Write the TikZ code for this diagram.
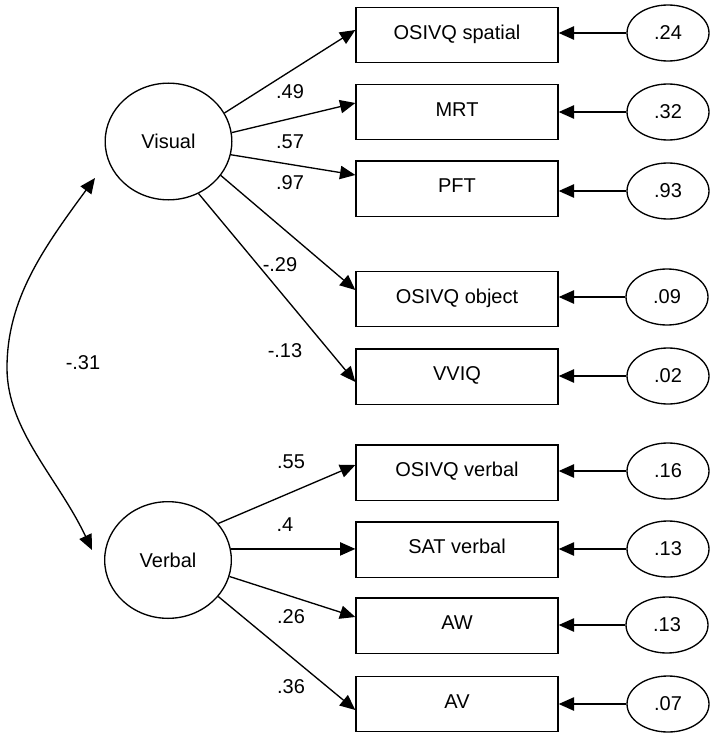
\documentclass[tikz,border=0pt]{standalone}
\usepackage{fontspec}
\setmainfont{Liberation Sans}
\usetikzlibrary{arrows.meta,shapes.geometric}
\begin{document}
\begin{tikzpicture}[x=0.75pt,y=-0.75pt,
  every node/.style={font=\fontsize{15pt}{18pt}\selectfont, text=black},
  obs/.style={draw, line width=1pt, minimum width=151.5pt, minimum height=41.5pt, inner sep=0pt, text height=11pt, text depth=4.8pt},
  err/.style={draw, ellipse, line width=1pt, minimum width=61.5pt, minimum height=42pt, inner sep=0pt},
  lat/.style={draw, ellipse, line width=1pt, minimum width=95pt, minimum height=87.5pt, inner sep=0pt},
  lbl/.style={inner sep=0pt},
  arr/.style={line width=1pt, -{Triangle[length=11.5pt,width=10pt]}},
  darr/.style={line width=1pt, {Triangle[length=11.5pt,width=10pt]}-{Triangle[length=11.5pt,width=10pt]}}
]
\useasboundingbox (0,0) rectangle (710,735);

% latent variables
\node[lat] (vis) at (168.5,141.5) {Visual};
\node[lat] (vrb) at (168,560) {Verbal};

% observed variables
\node[obs] (b1) at (457,35) {OSIVQ spatial};
\node[obs] (b2) at (457,112) {MRT};
\node[obs] (b3) at (457,188.5) {PFT};
\node[obs] (b4) at (457,299) {OSIVQ object};
\node[obs] (b5) at (457,376.5) {VVIQ};
\node[obs] (b6) at (457,472.5) {OSIVQ verbal};
\node[obs] (b7) at (457,549.5) {SAT verbal};
\node[obs] (b8) at (457,625.5) {AW};
\node[obs] (b9) at (457,704) {AV};

% error terms
\node[err] (e1) at (668,33) {.24};
\node[err] (e2) at (668,112) {.32};
\node[err] (e3) at (668,191) {.93};
\node[err] (e4) at (667,297) {.09};
\node[err] (e5) at (668,376) {.02};
\node[err] (e6) at (668,471) {.16};
\node[err] (e7) at (668,549) {.13};
\node[err] (e8) at (667,625) {.13};
\node[err] (e9) at (668,704) {.07};

\foreach \i in {1,...,9}{
  \draw[arr] (e\i.west) -- (e\i.west -| b\i.east);
}

% loadings from Visual
\draw[arr] (vis.27) -- (b1.west |- 0,30);
\draw[arr] (vis.8.5) -- (b2.west |- 0,103);
\draw[arr] (vis.-12) -- (b3.west |- 0,175);
\draw[arr] (vis.-33.6) -- (b4.west |- 0,290);
\draw[arr] (vis.-60) -- (b5.west |- 0,382);

% loadings from Verbal
\draw[arr] (vrb.36.5) -- (b6.west |- 0,465);
\draw[arr] (vrb.10.5) -- (vrb.10.5 -| b7.west);
\draw[arr] (vrb.-15.6) -- (b8.west |- 0,617);
\draw[arr] (vrb.-36.5) -- (b9.west |- 0,710);

% correlation
\coordinate (ctop) at (95,178);
\coordinate (cbot) at (92,550);
\coordinate (cmid) at (7,368);
\draw[darr] (ctop) .. controls (42,250) and (7,300) .. (cmid) .. controls (7,430) and (58,478) .. (cbot);

% labels
\node[lbl] (l1) at (290,92) {.49};
\node[lbl] (l2) at (290,142) {.57};
\node[lbl] (l3) at (290,183) {.97};
\node[lbl] (l4) at (280,265) {-.29};
\node[lbl] (l5) at (285,351) {-.13};
\node[lbl] (l6) at (83,363) {-.31};
\node[lbl] (l7) at (291,462) {.55};
\node[lbl] (l8) at (285,525) {.4};
\node[lbl] (l9) at (291,617) {.26};
\node[lbl] (l10) at (291,687) {.36};
\end{tikzpicture}
\end{document}
